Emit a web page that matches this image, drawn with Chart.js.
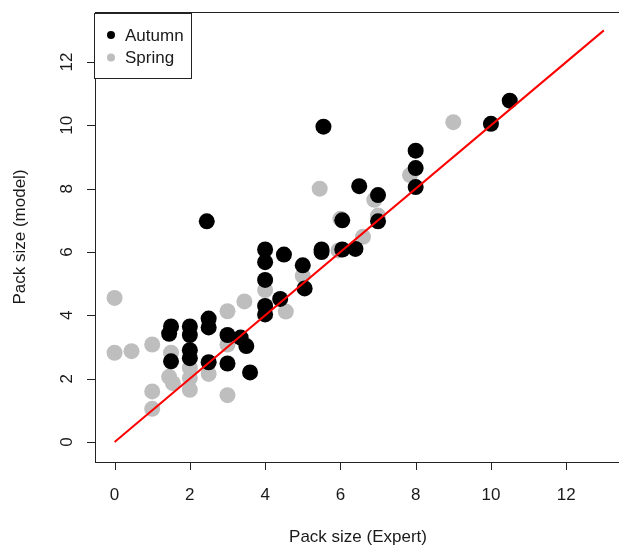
<!DOCTYPE html>
<html>
<head>
<meta charset="utf-8">
<script src="https://cdn.jsdelivr.net/npm/chart.js@4/dist/chart.umd.min.js"></script>
<style>
  html, body { margin: 0; padding: 0; background: #fff; }
  #wrap { width: 619px; height: 545px; }
</style>
</head>
<body>
<div id="wrap"><canvas id="chart1" width="619" height="545"></canvas></div>
<script>
// expert vs model pack sizes
const autumnExpert = [1.5, 1.45, 1.5, 2, 2, 2, 2, 2.5, 2.5, 2.5, 2.45, 3, 3, 3.35, 3.5, 3.6,
  4, 4, 4, 4, 4, 4.4, 4.5, 5, 5.05, 5.5, 5.5, 5.55, 6.05, 6.05, 6.4, 6.5, 7, 7, 8, 8, 8, 10, 10.5]
const autumnModel = [3.65, 3.42, 2.55, 3.65, 3.38, 2.9, 2.65, 3.9, 3.62, 2.52, 6.97, 3.38, 2.48, 3.3, 3.03, 2.2,
  6.08, 5.68, 5.12, 4.3, 4.03, 4.52, 5.92, 5.58, 4.85, 6.08, 6.0, 9.96, 7.0, 6.08, 6.1, 8.08, 7.8, 6.97, 9.2, 8.65, 8.05, 10.05, 10.78]

const springExpert = [0, 0, 0.45, 1, 1, 1, 1.5, 1.45, 1.55, 2, 2, 2, 2.5, 3, 3, 3, 3.45,
  4, 4.55, 5, 5.45, 6, 5.95, 6.6, 6.9, 7, 7.85, 9]
const springModel = [4.55, 2.82, 2.87, 3.08, 1.6, 1.05, 2.82, 2.06, 1.86, 2.34, 2.02, 1.65, 2.15, 4.13, 3.08, 1.48, 4.44,
  4.8, 4.12, 5.25, 8.0, 7.05, 6.05, 6.48, 7.65, 7.15, 8.43, 10.1]

const lineX = [0, 13]
const lineY = [0, 13]

const xTicks = [0, 2, 4, 6, 8, 10, 12]
const yTicks = [0, 2, 4, 6, 8, 10, 12]

const seriesNames = ['Autumn', 'Spring']
const seriesColors = ['#000000', '#bebebe']

const toPoints = (xs, ys) => xs.map((x, i) => ({ x, y: ys[i] }))

const FONT = '17px "Liberation Sans", Arial, sans-serif'
const INK = '#1a1a1a'

// R style frame, ticks, labels and legend
const rFrame = {
  id: 'rFrame',
  afterDraw(chart) {
    const { ctx, chartArea: a, scales } = chart
    const xs = scales.x, ys = scales.y
    ctx.save()
    ctx.strokeStyle = '#222'
    ctx.lineWidth = 1
    ctx.strokeRect(a.left + 0.5, a.top + 0.5, 800, a.bottom - a.top)

    ctx.fillStyle = INK
    ctx.font = FONT
    // x axis
    ctx.beginPath()
    ctx.moveTo(xs.getPixelForValue(xTicks[0]), a.bottom + 0.5)
    ctx.lineTo(xs.getPixelForValue(xTicks[xTicks.length - 1]), a.bottom + 0.5)
    xTicks.forEach(t => {
      const px = Math.round(xs.getPixelForValue(t)) + 0.5
      ctx.moveTo(px, a.bottom)
      ctx.lineTo(px, a.bottom + 8)
    })
    ctx.stroke()
    ctx.textAlign = 'center'
    ctx.textBaseline = 'middle'
    xTicks.forEach(t => {
      ctx.fillText(String(t), xs.getPixelForValue(t), a.bottom + 33)
    })
    ctx.fillText('Pack size (Expert)', 358, a.bottom + 75)

    // y axis
    ctx.beginPath()
    ctx.moveTo(a.left + 0.5, ys.getPixelForValue(yTicks[0]))
    ctx.lineTo(a.left + 0.5, ys.getPixelForValue(yTicks[yTicks.length - 1]))
    yTicks.forEach(t => {
      const py = Math.round(ys.getPixelForValue(t)) + 0.5
      ctx.moveTo(a.left, py)
      ctx.lineTo(a.left - 8, py)
    })
    ctx.stroke()
    yTicks.forEach(t => {
      ctx.save()
      ctx.translate(a.left - 28, ys.getPixelForValue(t))
      ctx.rotate(-Math.PI / 2)
      ctx.fillText(String(t), 0, 0)
      ctx.restore()
    })
    ctx.save()
    ctx.translate(20, (a.top + a.bottom) / 2)
    ctx.rotate(-Math.PI / 2)
    ctx.fillText('Pack size (model)', 0, 0)
    ctx.restore()

    // legend
    const lx = a.left - 1, ly = a.top + 1, lw = 97, lh = 65
    ctx.fillStyle = '#fff'
    ctx.fillRect(lx, ly, lw, lh)
    ctx.strokeStyle = '#222'
    ctx.strokeRect(lx + 0.5, ly + 0.5, lw, lh)
    ctx.textAlign = 'left'
    seriesNames.forEach((name, i) => {
      const cy = ly + 22 + i * 22.5
      ctx.fillStyle = seriesColors[i]
      ctx.beginPath()
      ctx.arc(lx + 17, cy, 4, 0, Math.PI * 2)
      ctx.fill()
      ctx.fillStyle = INK
      ctx.fillText(name, lx + 31, cy + 1)
    })
    ctx.restore()
  }
}

const ctx = document.getElementById('chart1').getContext('2d')
new Chart(ctx, {
  type: 'scatter',
  data: {
    datasets: [
      {
        type: 'line',
        label: 'identity',
        data: toPoints(lineX, lineY),
        borderColor: '#ff0000',
        borderWidth: 2,
        pointRadius: 0,
        fill: false
      },
      {
        label: seriesNames[0],
        data: toPoints(autumnExpert, autumnModel),
        backgroundColor: seriesColors[0],
        borderWidth: 0,
        pointRadius: 8,
        pointHoverRadius: 8
      },
      {
        label: seriesNames[1],
        data: toPoints(springExpert, springModel),
        backgroundColor: seriesColors[1],
        borderWidth: 0,
        pointRadius: 8,
        pointHoverRadius: 8
      }
    ]
  },
  options: {
    responsive: false,
    animation: false,
    layout: { padding: { left: 95, top: 12, right: 0, bottom: 83 } },
    plugins: { legend: { display: false }, tooltip: { enabled: false } },
    scales: {
      x: { type: 'linear', min: -0.52, max: 13.19, display: false },
      y: { type: 'linear', min: -0.63, max: 13.58, display: false }
    }
  },
  plugins: [rFrame]
})
</script>
</body>
</html>
